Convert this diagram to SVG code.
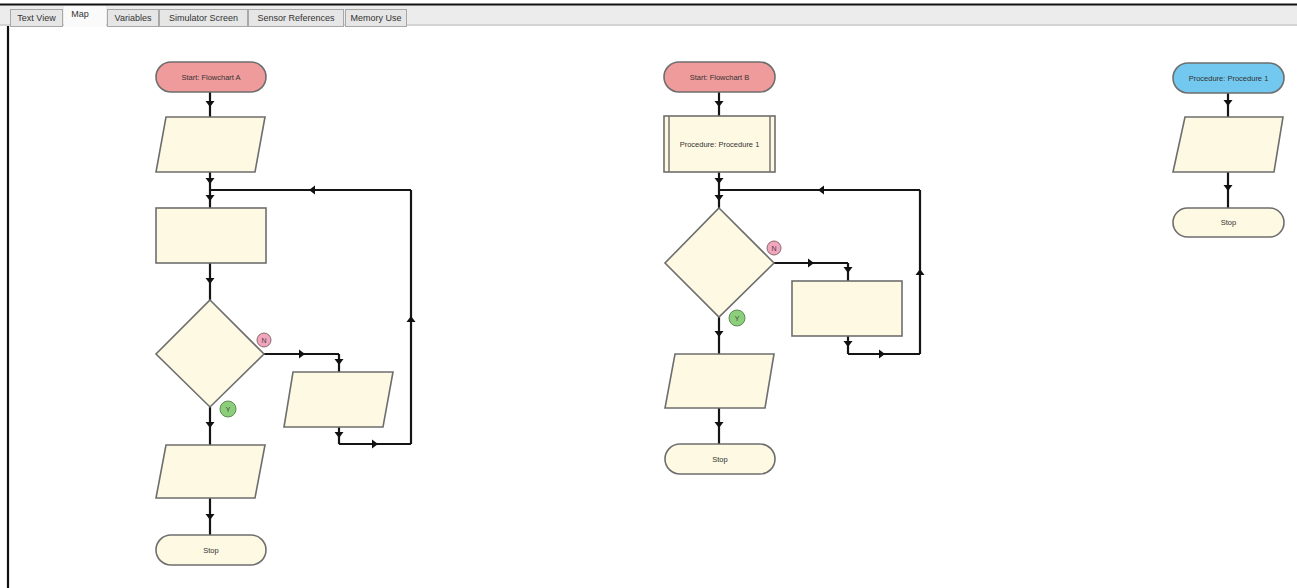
<svg xmlns="http://www.w3.org/2000/svg" width="1297" height="588" viewBox="0 0 1297 588">
<defs>
<marker id="ah" viewBox="-5 -5 10 10" markerWidth="10" markerHeight="10" markerUnits="userSpaceOnUse" orient="auto">
<path d="M-3,-4.5 L-3,4.5 L3,0 Z" fill="#111"/>
</marker>
<style>
.tab{fill:#e6e6e6;stroke:#a8a8a8;stroke-width:1}
.tt{font-family:"Liberation Sans",Arial,sans-serif;font-size:9px;fill:#333;text-anchor:middle}
.sh{fill:#fdf9e2;stroke:#6e6e6e;stroke-width:1.6}
.start{fill:#f09b9b;stroke:#6e6e6e;stroke-width:1.6}
.proc{fill:#72c8ee;stroke:#6e6e6e;stroke-width:1.6}
.lbl{font-family:"Liberation Sans",Arial,sans-serif;font-size:7.5px;fill:#333;text-anchor:middle}
.c{fill:none;stroke:#151515;stroke-width:2.2;marker-mid:url(#ah)}
.cn{fill:none;stroke:#151515;stroke-width:2.2}
.no{fill:#f2a6bd;stroke:#8a6a70;stroke-width:1}
.yes{fill:#8ccf7a;stroke:#5f8a55;stroke-width:1}
.yn{font-family:"Liberation Sans",Arial,sans-serif;font-size:7px;fill:#444;text-anchor:middle}
</style>
</defs>
<rect x="0" y="0" width="1297" height="588" fill="#ffffff"/>
<!-- window frame and tab bar -->
<g id="tabbar">
<rect x="0" y="5" width="1297" height="20" fill="#ececec"/>
<line x1="0" y1="25" x2="1297" y2="25" stroke="#d4d4d4" stroke-width="2"/>
<line x1="0" y1="4.5" x2="1297" y2="4.5" stroke="#111" stroke-width="2"/>
<line x1="8" y1="26" x2="8" y2="588" stroke="#111" stroke-width="2.2"/>
<rect class="tab" x="10.5" y="9.5" width="52" height="17"/>
<text class="tt" x="36.5" y="21">Text View</text>
<rect x="64" y="6" width="42" height="21" fill="#fafafa"/>
<text class="tt" x="80" y="17">Map</text>
<rect class="tab" x="107.5" y="9.5" width="51" height="17"/>
<text class="tt" x="133" y="21">Variables</text>
<rect class="tab" x="159.5" y="9.5" width="88" height="17"/>
<text class="tt" x="203.5" y="21">Simulator Screen</text>
<rect class="tab" x="248.5" y="9.5" width="95" height="17"/>
<text class="tt" x="296" y="21">Sensor References</text>
<rect class="tab" x="345.5" y="9.5" width="61" height="17"/>
<text class="tt" x="376" y="21">Memory Use</text>
</g>
<!-- connectors -->
<g id="connectors">
<!-- Flowchart A -->
<path class="c" d="M210,92 L210,104 L210,117"/>
<path class="c" d="M210,172 L210,181 L210,190"/>
<path class="c" d="M210,190 L210,198 L210,208"/>
<path class="c" d="M210,263 L210,281 L210,300"/>
<path class="c" d="M264,354 L302,354 L339,354"/>
<path class="c" d="M339,354 L339,362 L339,372"/>
<path class="c" d="M339,427 L339,435 L339,444"/>
<path class="c" d="M339,444 L375,444 L411,444"/>
<path class="c" d="M411,444 L411,319 L411,190"/>
<path class="c" d="M411,190 L312,190 L210,190"/>
<path class="c" d="M210,407 L210,425 L210,445"/>
<path class="c" d="M210,498 L210,517 L210,535"/>
<!-- Flowchart B -->
<path class="c" d="M719,92 L719,104 L719,116"/>
<path class="c" d="M719,172 L719,181 L719,190"/>
<path class="c" d="M719,190 L719,198 L719,208"/>
<path class="c" d="M774,263 L811,263 L848,263"/>
<path class="c" d="M848,263 L848,270 L848,281"/>
<path class="c" d="M848,336 L848,344 L848,354"/>
<path class="c" d="M848,354 L882,354 L920,354"/>
<path class="c" d="M920,354 L920,272 L920,190"/>
<path class="c" d="M920,190 L821,190 L719,190"/>
<path class="c" d="M719,317 L719,334 L719,354"/>
<path class="c" d="M719,408 L719,425 L719,444"/>
<!-- Procedure 1 -->
<path class="c" d="M1228,93 L1228,103 L1228,117"/>
<path class="c" d="M1228,172 L1228,188 L1228,208"/>
</g>
<!-- Flowchart A nodes -->
<g id="a-start">
<rect class="start" x="156" y="62" width="110" height="30" rx="15"/>
<text class="lbl" x="211" y="80">Start: Flowchart A</text>
</g>
<g id="a-io1"><path class="sh" d="M166,117 L265,117 L255,172 L156,172 Z"/></g>
<g id="a-proc"><rect class="sh" x="156" y="208" width="110" height="55"/></g>
<g id="a-dec">
<path class="sh" d="M210,300 L264,354 L210,407 L156,354 Z"/>
<circle class="no" cx="264" cy="340" r="7"/>
<text class="yn" x="264" y="342.5">N</text>
<circle class="yes" cx="228" cy="409" r="8"/>
<text class="yn" x="228" y="411.5">Y</text>
</g>
<g id="a-io2"><path class="sh" d="M293,372 L393,372 L383,427 L284,427 Z"/></g>
<g id="a-io3"><path class="sh" d="M166,445 L265,445 L255,498 L156,498 Z"/></g>
<g id="a-stop">
<rect class="sh" x="156" y="535" width="110" height="30" rx="15"/>
<text class="lbl" x="211" y="553">Stop</text>
</g>
<!-- Flowchart B nodes -->
<g id="b-start">
<rect class="start" x="664" y="62" width="111" height="30" rx="15"/>
<text class="lbl" x="719.5" y="80">Start: Flowchart B</text>
</g>
<g id="b-call">
<rect class="sh" x="664" y="116" width="111" height="56"/>
<line x1="669" y1="116" x2="669" y2="172" stroke="#6e6e6e" stroke-width="1.4"/>
<line x1="770" y1="116" x2="770" y2="172" stroke="#6e6e6e" stroke-width="1.4"/>
<text class="lbl" x="719.5" y="147">Procedure: Procedure 1</text>
</g>
<g id="b-dec">
<path class="sh" d="M719,208 L774,263 L719,317 L665,263 Z"/>
<circle class="no" cx="774" cy="248" r="7"/>
<text class="yn" x="774" y="250.5">N</text>
<circle class="yes" cx="737" cy="318" r="8"/>
<text class="yn" x="737" y="320.5">Y</text>
</g>
<g id="b-proc"><rect class="sh" x="792" y="281" width="110" height="55"/></g>
<g id="b-io"><path class="sh" d="M675,354 L774,354 L765,408 L665,408 Z"/></g>
<g id="b-stop">
<rect class="sh" x="665" y="444" width="110" height="30" rx="15"/>
<text class="lbl" x="720" y="462">Stop</text>
</g>
<!-- Procedure 1 nodes -->
<g id="p-start">
<rect class="proc" x="1173" y="63" width="111" height="30" rx="15"/>
<text class="lbl" x="1228.5" y="81">Procedure: Procedure 1</text>
</g>
<g id="p-io"><path class="sh" d="M1185,117 L1283,117 L1274,172 L1173,172 Z"/></g>
<g id="p-stop">
<rect class="sh" x="1173" y="208" width="111" height="29" rx="14.5"/>
<text class="lbl" x="1228.5" y="225">Stop</text>
</g>
</svg>
